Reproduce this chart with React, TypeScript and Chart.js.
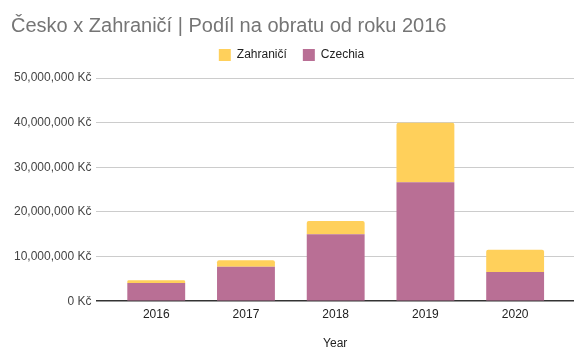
import React, { useEffect, useRef } from "react";
import { Chart, registerables } from "chart.js";

Chart.register(...registerables);

const years = [2016, 2017, 2018, 2019, 2020];
const czechia = [4050000, 7700000, 15000000, 26650000, 6550000];
const zahranici = [650000, 1500000, 2950000, 13350000, 5000000];
const yTicks = [0, 10000000, 20000000, 30000000, 40000000, 50000000];

const FONT = "Arial, 'Liberation Sans', sans-serif";

const layoutTweak = {
  id: "layoutTweak",
  beforeInit(chart: any) {
    const lg = chart.legend;
    if (lg && !lg.__patched) {
      const orig = lg.fit;
      lg.fit = function () {
        orig.call(this);
        this.height += 2;
      };
      lg.__patched = true;
    }
  },
  afterLayout(chart: any) {
    if (chart.titleBlock) chart.titleBlock.left += 2;
    if (chart.legend) {
      chart.legend.top -= 5;
    }
  },
};

export default function App() {
  const ref = useRef<HTMLCanvasElement>(null);
  useEffect(() => {
    document.body.style.margin = "0";
    const ctx = ref.current!;
    const chart = new Chart(ctx, {
      type: "bar",
      plugins: [layoutTweak],
      data: {
        datasets: [
          {
            label: "Czechia",
            data: years.map((y, i) => ({ x: y, y: czechia[i] })),
            backgroundColor: "#b96f95",
            barPercentage: 0.645,
            categoryPercentage: 1,
          },
          {
            label: "Zahraničí",
            data: years.map((y, i) => ({ x: y, y: zahranici[i] })),
            backgroundColor: "#ffd05b",
            borderRadius: { topLeft: 2, topRight: 2, bottomLeft: 0, bottomRight: 0 },
            borderSkipped: false,
            barPercentage: 0.645,
            categoryPercentage: 1,
          },
        ],
      },
      options: {
        animation: false,
        responsive: false,
        maintainAspectRatio: false,
        layout: { padding: { left: 9, right: 12, top: 0, bottom: 5 } },
        plugins: {
          title: {
            display: true,
            text: "Česko x Zahraničí | Podíl na obratu od roku 2016",
            align: "start",
            color: "#757575",
            font: { family: FONT, size: 20, weight: "normal" },
            padding: { top: 14, bottom: 0 },
          },
          legend: {
            display: true,
            reverse: true,
            labels: {
              color: "#222",
              font: { family: FONT, size: 12 },
              boxWidth: 12,
              boxHeight: 12,
              padding: 16,
            },
          },
          tooltip: { enabled: false },
        },
        scales: {
          x: {
            type: "linear",
            stacked: true,
            offset: false,
            min: 2015.333,
            max: 2020.656,
            afterBuildTicks: (axis: any) => {
              axis.ticks = years.map((v) => ({ value: v }));
            },
            ticks: {
              color: "#222",
              font: { family: FONT, size: 12 },
              callback: (v: any) => String(v),
              padding: 6,
              maxRotation: 0,
            },
            grid: { display: false, drawTicks: false },
            border: { display: false },
            title: {
              display: true,
              text: "Year",
              color: "#222",
              font: { family: FONT, size: 12 },
              padding: { top: 9, bottom: 0 },
            },
          },
          y: {
            stacked: true,
            min: 0,
            max: 50000000,
            afterBuildTicks: (axis: any) => {
              axis.ticks = yTicks.map((v) => ({ value: v }));
            },
            ticks: {
              color: "#444",
              font: { family: FONT, size: 12 },
              padding: 5,
              callback: (v: any) => Number(v).toLocaleString("en-US") + " Kč",
            },
            grid: {
              drawTicks: false,
              color: (c: any) => (c.tick && c.tick.value === 0 ? "#333" : "#cccccc"),
              lineWidth: (c: any) => (c.tick && c.tick.value === 0 ? 1.5 : 1),
            },
            border: { display: false },
          },
        },
      },
    });
    return () => chart.destroy();
  }, []);
  return (
    <div style={{ position: "absolute", left: 0, top: 0, width: 586, height: 356 }}>
      <canvas ref={ref} width={586} height={356} style={{ width: 586, height: 356 }} />
    </div>
  );
}
